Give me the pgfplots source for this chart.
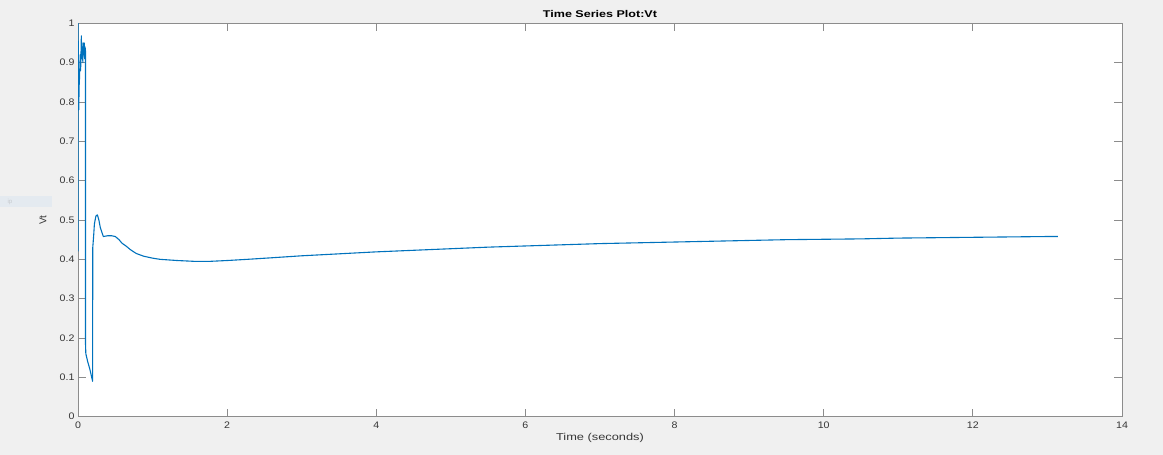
\documentclass[border=0pt]{standalone}
\usepackage{pgfplots}
\pgfplotsset{compat=1.18}
\usepackage{fontspec}
\setmainfont{Liberation Sans}
\newfontfamily\tickf[FakeStretch=1.12]{Liberation Sans}
\newfontfamily\labf[FakeStretch=1.28]{Liberation Sans}
\definecolor{bgc}{RGB}{240,240,240}
\definecolor{mblue}{RGB}{0,114,189}
\definecolor{axc}{RGB}{140,140,140}
\definecolor{txc}{RGB}{55,55,55}
\definecolor{tipc}{RGB}{228,234,240}
\begin{document}
\begin{tikzpicture}
\fill[bgc] (0,0) rectangle (1163pt,455pt);
\fill[tipc] (0,248pt) rectangle (52pt,259pt);
\node[text=tipc!70!gray, font=\fontsize{6}{7}\selectfont, anchor=west] at (4pt,253.5pt) {ip};
\begin{axis}[
  at={(78pt,38.3pt)}, anchor=south west,
  scale only axis, width=1044pt, height=393.4pt,
  xmin=0, xmax=14, ymin=0, ymax=1,
  xtick={0,2,...,14},
  ytick={0,0.1,...,1.0},
  yticklabels={0,0.1,0.2,0.3,0.4,0.5,0.6,0.7,0.8,0.9,1},
  xticklabels={0,2,4,6,8,10,12,14},
  axis background/.style={fill=white},
  axis line style={axc, line width=0.8pt},
  tick style={axc, line width=0.8pt},
  major tick length=8pt,
  tick align=inside,
  ticklabel style={text=txc, font=\tickf\fontsize{9.5}{11}\selectfont},
  xticklabel style={yshift=-1.5pt},
  /pgf/number format/assume math mode=true,
  title={Time Series Plot:Vt},
  title style={at={(0.5,1)}, anchor=south, yshift=-3.5pt, text=black, font=\labf\bfseries\fontsize{9.8}{11}\selectfont},
  xlabel={Time (seconds)},
  ylabel={Vt},
  xlabel style={at={(axis description cs:0.5,-0.055)}, anchor=center, text=txc, font=\labf\fontsize{10}{12}\selectfont},
  ylabel style={at={(axis description cs:-0.0335,0.5)}, anchor=center, text=txc, font=\fontsize{10}{12}\selectfont},
  clip=true,
]
\addplot[mblue, line width=1.1pt, line join=round] coordinates {
(0,0.42) (0.002,1.0) (0.005,0.80) (0.01,0.78) (0.015,0.84) (0.02,0.86)
(0.03,0.92) (0.035,0.88) (0.04,0.92) (0.045,0.968) (0.05,0.91) (0.06,0.94)
(0.065,0.90) (0.07,0.95) (0.08,0.92) (0.085,0.95) (0.09,0.91) (0.095,0.94)
(0.1,0.93) (0.1,0.19) (0.105,0.16) (0.13,0.14) (0.16,0.12) (0.196,0.09)
(0.196,0.13) (0.198,0.43) (0.21,0.46) (0.22,0.49) (0.24,0.51) (0.26,0.513)
(0.28,0.50) (0.30,0.48) (0.34,0.458) (0.40,0.46) (0.45,0.46) (0.50,0.458)
(0.55,0.45) (0.59,0.441) (0.65,0.433) (0.70,0.425) (0.78,0.415) (0.88,0.408)
(1.0,0.403) (1.10,0.40) (1.33,0.397) (1.55,0.395) (1.78,0.395) (2.0,0.397)
(2.27,0.40) (2.6,0.404) (3.0,0.409) (3.5,0.414) (4,0.419) (4.5,0.423)
(5,0.427) (5.5,0.431) (6,0.434) (6.5,0.437) (7,0.440) (7.5,0.442)
(8,0.444) (8.5,0.446) (9,0.448) (9.5,0.450) (10,0.451) (10.5,0.452)
(11,0.454) (11.5,0.455) (12,0.456) (12.5,0.457) (13,0.458) (13.14,0.458)
};
\end{axis}
\pgfresetboundingbox
\path[use as bounding box] (0,0) rectangle (1163pt,455pt);
\end{tikzpicture}
\end{document}
